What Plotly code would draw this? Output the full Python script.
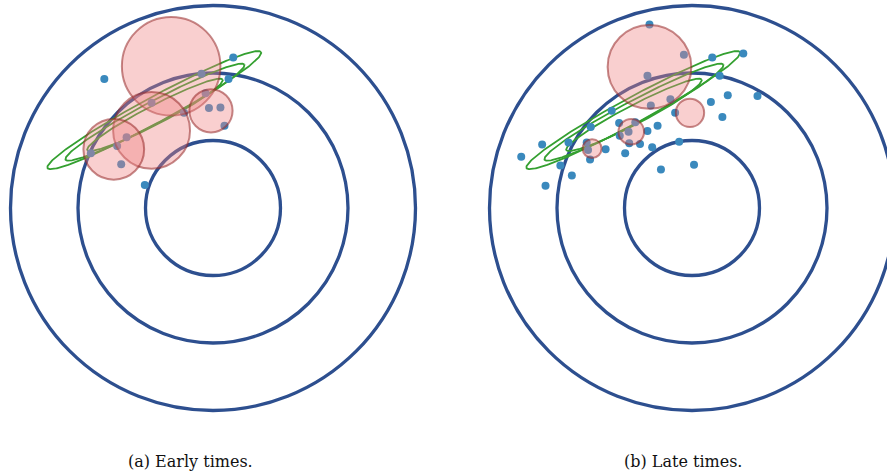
import numpy as np
import plotly.graph_objects as go

# ---------------- data (units: inner ring radius = 1) ----------------
ring_radii = [1.0, 2.0, 3.0]

early_x = [-1.61, 0.30, 0.23, -0.17, -0.11, -0.91, -0.43, -0.06, 0.11, 0.17,
           -1.28, -1.42, -1.81, -1.36, -1.01]
early_y = [1.91, 2.23, 1.91, 1.99, 1.70, 1.56, 1.41, 1.48, 1.49, 1.22,
           1.05, 0.92, 0.81, 0.65, 0.34]

late_x = [-0.63, -0.12, 0.30, 0.76, -0.66, 0.41, 0.53, 0.97, 0.28, 0.45,
          -0.32, -0.61, -0.25, -1.19, -1.50, -1.08, -0.84, -0.94, -1.07, -0.66,
          -0.51, -0.93, -0.77, -0.59, -0.99, -0.19, -1.28, -1.56, -1.54, -1.51,
          -1.83, -2.22, -2.53, -1.95, -1.78, -2.17, -0.46, 0.03]
late_y = [2.72, 2.27, 2.23, 2.29, 1.96, 1.96, 1.67, 1.66, 1.57, 1.35,
          1.61, 1.52, 1.41, 1.44, 1.20, 1.26, 1.27, 1.13, 1.07, 1.14,
          1.22, 0.96, 0.95, 0.90, 0.81, 0.98, 0.87, 0.97, 0.86, 0.72,
          0.97, 0.94, 0.76, 0.63, 0.48, 0.33, 0.57, 0.64]

early_blob_x = [-0.62, -0.91, -1.47, -0.03]
early_blob_y = [2.10, 1.15, 0.87, 1.44]
early_blob_r = [0.73, 0.57, 0.45, 0.32]

late_blob_x = [-0.63, -0.03, -0.90, -1.48]
late_blob_y = [2.09, 1.41, 1.13, 0.88]
late_blob_r = [0.62, 0.21, 0.19, 0.14]

ell_cx = [-0.87, -0.86, -0.86]
ell_cy = [1.45, 1.42, 1.38]
ell_a = [1.80, 1.50, 1.13]
ell_b = [0.19, 0.165, 0.14]
ell_angle_deg = [28.5, 28.0, 27.5]

captions = ["(a) Early times.", "(b) Late times."]

# ---------------- styles / layout ----------------
W, H = 887, 473
S = 67.5                      # px per unit
centers_px = [(213, 208), (692, 208)]
caption_x_px = [190, 683]
RING = "#2d4f8f"
DOT = "#3a89bd"
GREEN = "#34a030"
PINK_FILL = "rgba(240,128,128,0.38)"
PINK_LINE = "rgba(150,40,40,0.55)"

fig = go.Figure()
shapes = []
panels = [
    (early_x, early_y, early_blob_x, early_blob_y, early_blob_r),
    (late_x, late_y, late_blob_x, late_blob_y, late_blob_r),
]
t = np.linspace(0, 2 * np.pi, 300)

for i, (px, py, bx, by, br) in enumerate(panels):
    xa = "x" if i == 0 else "x2"
    ya = "y" if i == 0 else "y2"
    # rings
    for r in ring_radii:
        shapes.append(dict(type="circle", xref=xa, yref=ya, x0=-r, x1=r, y0=-r, y1=r,
                           line=dict(color=RING, width=3.3), layer="below"))
    # ellipses
    for cx, cy, a, b, ang in zip(ell_cx, ell_cy, ell_a, ell_b, ell_angle_deg):
        th = np.deg2rad(ang)
        ex = cx + a * np.cos(t) * np.cos(th) - b * np.sin(t) * np.sin(th)
        ey = cy + a * np.cos(t) * np.sin(th) + b * np.sin(t) * np.cos(th)
        fig.add_trace(go.Scatter(x=ex, y=ey, mode="lines", xaxis=xa, yaxis=ya,
                                 line=dict(color=GREEN, width=1.8), hoverinfo="skip",
                                 showlegend=False))
    # points
    fig.add_trace(go.Scatter(x=px, y=py, mode="markers", xaxis=xa, yaxis=ya,
                             marker=dict(color=DOT, size=8), showlegend=False))
    # pink blobs
    for cx, cy, r in zip(bx, by, br):
        shapes.append(dict(type="circle", xref=xa, yref=ya, x0=cx - r, x1=cx + r,
                           y0=cy - r, y1=cy + r, fillcolor=PINK_FILL,
                           line=dict(color=PINK_LINE, width=2), layer="above"))

annotations = []
for cap, cxp in zip(captions, caption_x_px):
    annotations.append(dict(text=cap, xref="paper", yref="paper", x=cxp / W,
                            y=1 - 461 / H, xanchor="center", yanchor="middle",
                            showarrow=False,
                            font=dict(family="DejaVu Serif", size=16, color="#111111")))

def xrange_for(cxp, d0, d1):
    return [(d0 * W - cxp) / S, (d1 * W - cxp) / S]

yr = [(centers_px[0][1] - H) / S, centers_px[0][1] / S]
ax_common = dict(visible=False, showgrid=False, zeroline=False, fixedrange=True)

fig.update_layout(
    width=W, height=H,
    margin=dict(l=0, r=0, t=0, b=0),
    paper_bgcolor="white", plot_bgcolor="white",
    showlegend=False,
    shapes=shapes,
    annotations=annotations,
    xaxis=dict(domain=[0, 0.5], range=xrange_for(centers_px[0][0], 0, 0.5), **ax_common),
    yaxis=dict(domain=[0, 1], range=yr, **ax_common),
    xaxis2=dict(domain=[0.5, 1], range=xrange_for(centers_px[1][0], 0.5, 1), **ax_common),
    yaxis2=dict(domain=[0, 1], range=yr, anchor="x2", **ax_common),
)

fig.write_html("out.html", config={"displayModeBar": False},
               post_script="document.body.style.margin='0';document.body.style.overflow='hidden';")
